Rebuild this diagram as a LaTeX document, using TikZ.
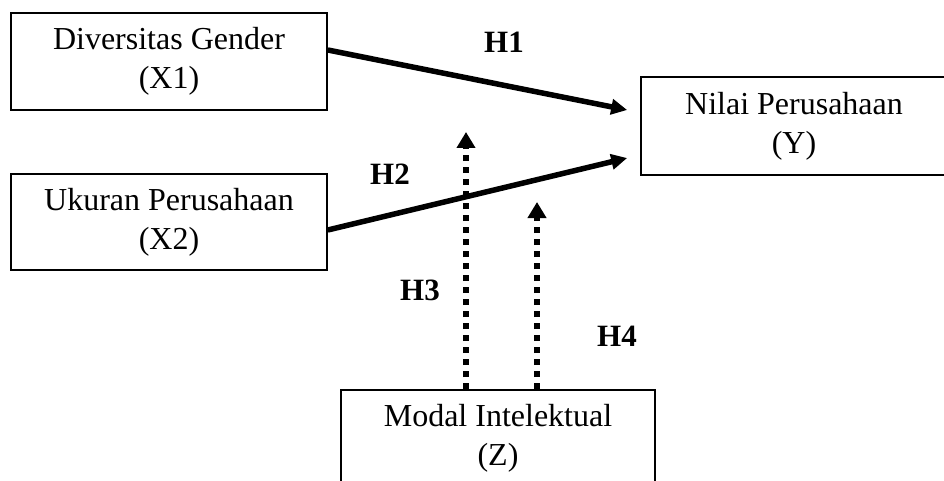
\documentclass[tikz,border=0pt]{standalone}
\usepackage{fontspec}
\setmainfont{Liberation Serif}
\usetikzlibrary{arrows.meta}
\begin{document}
\begin{tikzpicture}[x=1pt,y=1pt,
  varbox/.style={draw,line width=1.6pt,align=center,inner sep=0pt,
    font=\fontsize{32}{39}\selectfont},
  solidarrow/.style={line width=5.5pt,-{Triangle[length=16pt,width=15pt]}},
  dotarrow/.style={line width=5.5pt,dash pattern=on 6pt off 6pt,
    -{Triangle[length=16pt,width=18pt]}},
  hlabel/.style={font=\fontsize{31}{36}\selectfont\bfseries,inner sep=0pt}]
\useasboundingbox (0,0) rectangle (944,480);
\node[varbox,minimum width=316pt,minimum height=97pt] (x1) at (169,418.5) {Diversitas Gender\\(X1)};
\node[varbox,minimum width=316pt,minimum height=96pt] (x2) at (169,258) {Ukuran Perusahaan\\(X2)};
\node[varbox,minimum width=306pt,minimum height=98pt] (y) at (794,354) {Nilai Perusahaan\\(Y)};
\node[varbox,minimum width=314pt,minimum height=97pt] (z) at (498,41.5) {Modal Intelektual\\(Z)};
\coordinate (t1) at ([xshift=-13pt,yshift=16pt]y.west);
\coordinate (t2) at ([xshift=-13pt,yshift=-32pt]y.west);
\coordinate (t3) at (466,348);
\coordinate (t4) at (537,278);
\draw[solidarrow] ([yshift=11.5pt]x1.east) -- (t1);
\draw[solidarrow] ([yshift=-8pt]x2.east) -- (t2);
\draw[dotarrow] ([xshift=-32pt]z.north) -- (t3);
\draw[dotarrow] ([xshift=39pt]z.north) -- (t4);
\node[hlabel] (h1) at (504,438) {H1};
\node[hlabel] (h2) at (390,306) {H2};
\node[hlabel] (h3) at (420,190) {H3};
\node[hlabel] (h4) at (617,144) {H4};
\end{tikzpicture}
\end{document}
